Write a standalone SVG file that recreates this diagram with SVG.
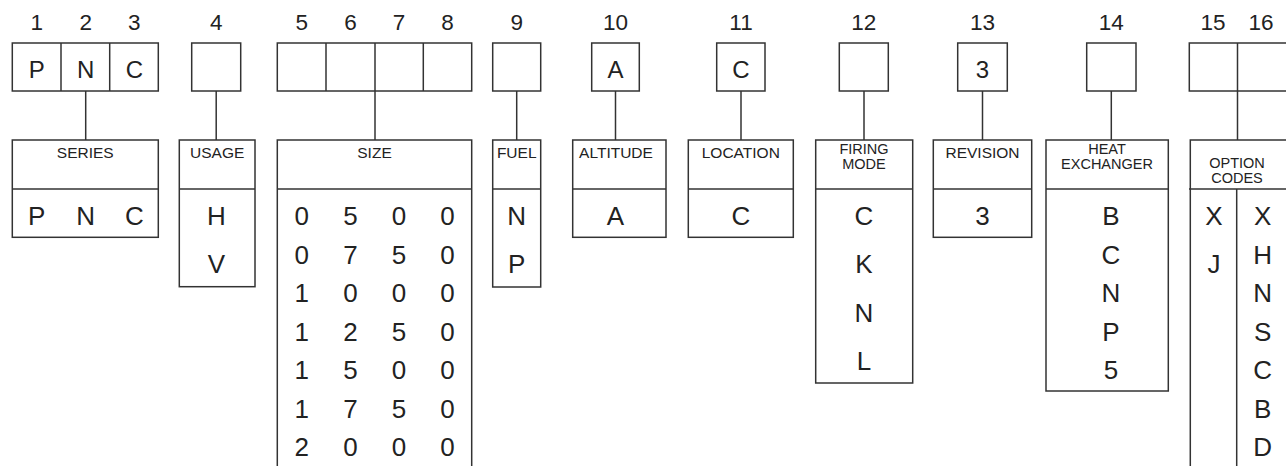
<svg xmlns="http://www.w3.org/2000/svg" width="1286" height="466" viewBox="0 0 1286 466">
<style>
.b{fill:none;stroke:#333;stroke-width:1.5}
text{font-family:"Liberation Sans",Arial,sans-serif;fill:#222;text-anchor:middle}
.n{font-size:22.5px}
.t{font-size:24px}
.v{font-size:26px}
.h{font-size:15.5px}
.h2{font-size:14.5px}
</style>
<rect width="1286" height="466" fill="#fff"/>
<g id="positions">
<text class="n" x="36.7" y="29.5">1</text>
<text class="n" x="85.7" y="29.5">2</text>
<text class="n" x="134.3" y="29.5">3</text>
<text class="n" x="216.2" y="29.5">4</text>
<text class="n" x="301.7" y="29.5">5</text>
<text class="n" x="350.5" y="29.5">6</text>
<text class="n" x="399" y="29.5">7</text>
<text class="n" x="447.5" y="29.5">8</text>
<text class="n" x="516.7" y="29.5">9</text>
<text class="n" x="615.5" y="29.5">10</text>
<text class="n" x="741" y="29.5">11</text>
<text class="n" x="863.8" y="29.5">12</text>
<text class="n" x="982.5" y="29.5">13</text>
<text class="n" x="1111.3" y="29.5">14</text>
<text class="n" x="1213" y="29.5">15</text>
<text class="n" x="1261" y="29.5">16</text>
</g>
<g id="code-boxes">
<rect class="b" x="12.3" y="43" width="146" height="48"/>
<line class="b" x1="61" y1="43" x2="61" y2="91"/>
<line class="b" x1="109.7" y1="43" x2="109.7" y2="91"/>
<text class="t" x="36.7" y="78">P</text>
<text class="t" x="85.7" y="78">N</text>
<text class="t" x="134.3" y="78">C</text>
<rect class="b" x="191.7" y="43" width="49" height="48"/>
<rect class="b" x="277.3" y="43" width="194.4" height="48"/>
<line class="b" x1="326" y1="43" x2="326" y2="91"/>
<line class="b" x1="375" y1="43" x2="375" y2="91"/>
<line class="b" x1="423.3" y1="43" x2="423.3" y2="91"/>
<rect class="b" x="492.7" y="43" width="48" height="48"/>
<rect class="b" x="591.7" y="43" width="47.6" height="48"/>
<text class="t" x="615.5" y="78">A</text>
<rect class="b" x="716.7" y="43" width="48.3" height="48"/>
<text class="t" x="741" y="78">C</text>
<rect class="b" x="839.3" y="43" width="49" height="48"/>
<rect class="b" x="957.7" y="43" width="49.6" height="48"/>
<text class="t" x="982.5" y="78">3</text>
<rect class="b" x="1086.7" y="43" width="49.3" height="48"/>
<rect class="b" x="1189.3" y="43" width="110" height="48"/>
<line class="b" x1="1237.5" y1="43" x2="1237.5" y2="91"/>
</g>
<g id="connectors">
<line class="b" x1="85.7" y1="91" x2="85.7" y2="140"/>
<line class="b" x1="216.2" y1="91" x2="216.2" y2="140"/>
<line class="b" x1="375" y1="91" x2="375" y2="140"/>
<line class="b" x1="516.7" y1="91" x2="516.7" y2="140"/>
<line class="b" x1="615.5" y1="91" x2="615.5" y2="140"/>
<line class="b" x1="741" y1="91" x2="741" y2="140"/>
<line class="b" x1="864" y1="91" x2="864" y2="140"/>
<line class="b" x1="982.5" y1="91" x2="982.5" y2="140"/>
<line class="b" x1="1111.3" y1="91" x2="1111.3" y2="140"/>
<line class="b" x1="1237.5" y1="91" x2="1237.5" y2="140"/>
</g>
<g id="series">
<rect class="b" x="12.3" y="140" width="146" height="97.3"/>
<line class="b" x1="12.3" y1="189" x2="158.3" y2="189"/>
<text class="h" x="85.3" y="158.3">SERIES</text>
<text class="v" x="36.7" y="225">P</text>
<text class="v" x="85.7" y="225">N</text>
<text class="v" x="134.3" y="225">C</text>
</g>
<g id="usage">
<rect class="b" x="179.3" y="140" width="75.7" height="146.7"/>
<line class="b" x1="179.3" y1="189" x2="255" y2="189"/>
<text class="h" x="217.2" y="158.3">USAGE</text>
<text class="v" x="216.5" y="225">H</text>
<text class="v" x="216.5" y="272.7">V</text>
</g>
<g id="size">
<path class="b" d="M277.3 470V140H471.7V470M277.3 189H471.7"/>
<text class="h" x="374.5" y="158.3">SIZE</text>
<text class="v" x="301.7" y="225">0</text><text class="v" x="350.5" y="225">5</text><text class="v" x="399" y="225">0</text><text class="v" x="447.5" y="225">0</text>
<text class="v" x="301.7" y="263.5">0</text><text class="v" x="350.5" y="263.5">7</text><text class="v" x="399" y="263.5">5</text><text class="v" x="447.5" y="263.5">0</text>
<text class="v" x="301.7" y="302">1</text><text class="v" x="350.5" y="302">0</text><text class="v" x="399" y="302">0</text><text class="v" x="447.5" y="302">0</text>
<text class="v" x="301.7" y="340.5">1</text><text class="v" x="350.5" y="340.5">2</text><text class="v" x="399" y="340.5">5</text><text class="v" x="447.5" y="340.5">0</text>
<text class="v" x="301.7" y="379">1</text><text class="v" x="350.5" y="379">5</text><text class="v" x="399" y="379">0</text><text class="v" x="447.5" y="379">0</text>
<text class="v" x="301.7" y="417.5">1</text><text class="v" x="350.5" y="417.5">7</text><text class="v" x="399" y="417.5">5</text><text class="v" x="447.5" y="417.5">0</text>
<text class="v" x="301.7" y="456">2</text><text class="v" x="350.5" y="456">0</text><text class="v" x="399" y="456">0</text><text class="v" x="447.5" y="456">0</text>
</g>
<g id="fuel">
<rect class="b" x="492.7" y="140" width="48" height="147"/>
<line class="b" x1="492.7" y1="189" x2="540.7" y2="189"/>
<text class="h" x="516.7" y="158.3">FUEL</text>
<text class="v" x="516.7" y="225">N</text>
<text class="v" x="516.7" y="272.7">P</text>
</g>
<g id="altitude">
<rect class="b" x="572.7" y="140" width="93.3" height="97.3"/>
<line class="b" x1="572.7" y1="189" x2="666" y2="189"/>
<text class="h" x="616" y="158.3">ALTITUDE</text>
<text class="v" x="615.5" y="225">A</text>
</g>
<g id="location">
<rect class="b" x="688.3" y="140" width="105" height="97.3"/>
<line class="b" x1="688.3" y1="189" x2="793.3" y2="189"/>
<text class="h" x="740.8" y="158.3">LOCATION</text>
<text class="v" x="741" y="225">C</text>
</g>
<g id="firing-mode">
<rect class="b" x="815.7" y="140" width="97" height="243"/>
<line class="b" x1="815.7" y1="189" x2="912.7" y2="189"/>
<text class="h2" x="864" y="154.3">FIRING</text>
<text class="h2" x="864" y="169">MODE</text>
<text class="v" x="864" y="225">C</text>
<text class="v" x="864" y="272.7">K</text>
<text class="v" x="864" y="321.5">N</text>
<text class="v" x="864" y="370">L</text>
</g>
<g id="revision">
<rect class="b" x="933.3" y="140" width="98.4" height="97.3"/>
<line class="b" x1="933.3" y1="189" x2="1031.7" y2="189"/>
<text class="h" x="982.5" y="158.3">REVISION</text>
<text class="v" x="982.5" y="225">3</text>
</g>
<g id="heat-exchanger">
<rect class="b" x="1046" y="140" width="122.3" height="251"/>
<line class="b" x1="1046" y1="189" x2="1168.3" y2="189"/>
<text class="h2" x="1107" y="154.3">HEAT</text>
<text class="h2" x="1107" y="169">EXCHANGER</text>
<text class="v" x="1111" y="225">B</text>
<text class="v" x="1111" y="263.5">C</text>
<text class="v" x="1111" y="302">N</text>
<text class="v" x="1111" y="340.5">P</text>
<text class="v" x="1111" y="379">5</text>
</g>
<g id="option-codes">
<path class="b" d="M1190.3 470V140H1300M1189 189H1300M1236.7 189V470"/>
<text class="h2" x="1237" y="168.3">OPTION</text>
<text class="h2" x="1237" y="183.3">CODES</text>
<text class="v" x="1214" y="225">X</text>
<text class="v" x="1214" y="272.7">J</text>
<text class="v" x="1262.7" y="225">X</text>
<text class="v" x="1262.7" y="263.5">H</text>
<text class="v" x="1262.7" y="302">N</text>
<text class="v" x="1262.7" y="340.5">S</text>
<text class="v" x="1262.7" y="379">C</text>
<text class="v" x="1262.7" y="417.5">B</text>
<text class="v" x="1262.7" y="456">D</text>
</g>
</svg>
